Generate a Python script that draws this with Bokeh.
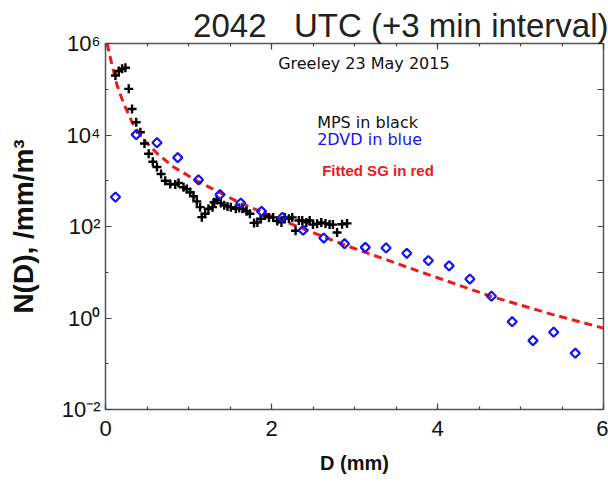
from bokeh.plotting import figure
from bokeh.models import (Range1d, FixedTicker, SingleIntervalTicker, LinearAxis, LogAxis,
                          CustomJSTickFormatter, Label)
from bokeh.embed import file_html
from bokeh.resources import INLINE

# ---- data ----
mps_d = [0.12, 0.16, 0.20, 0.24, 0.28, 0.32, 0.37, 0.42, 0.47, 0.52, 0.57, 0.62, 0.67, 0.72,
         0.78, 0.84, 0.88, 0.94, 0.98, 1.02, 1.06, 1.10, 1.14, 1.16, 1.20, 1.24, 1.29, 1.31,
         1.34, 1.39, 1.43, 1.47, 1.51, 1.57, 1.61, 1.65, 1.70, 1.74, 1.79, 1.83, 1.87, 1.92,
         1.97, 2.02, 2.07, 2.12, 2.16, 2.21, 2.25, 2.29, 2.33, 2.37, 2.42, 2.46, 2.50, 2.55,
         2.60, 2.65, 2.70, 2.74, 2.79, 2.85, 2.91]
mps_n = [2.0e5, 2.5e5, 2.8e5, 2.95e5, 1.02e5, 3.7e4, 1.9e4, 1.15e4, 6.5e3, 3.9e3, 2.6e3, 2.0e3,
         1.4e3, 1.0e3, 850, 830, 890, 720, 660, 560, 460, 355, 265, 160, 190, 245, 265, 340,
         380, 325, 290, 275, 265, 245, 255, 245, 215, 190, 120, 123, 148, 174, 158, 158, 132,
         123, 158, 148, 158, 81, 135, 135, 123, 135, 110, 115, 123, 117, 110, 110, 74, 112, 117]

dvd_d = [0.12, 0.37, 0.62, 0.87, 1.12, 1.38, 1.63, 1.88, 2.13, 2.38, 2.63, 2.88, 3.13, 3.38,
         3.63, 3.89, 4.14, 4.39, 4.65, 4.90, 5.15, 5.40, 5.66]
dvd_n = [440, 1.02e4, 6.8e3, 3.2e3, 1.05e3, 500, 325, 214, 158, 83, 56, 42, 35, 34, 26, 18,
         13.8, 7.1, 3.0, 0.83, 0.32, 0.49, 0.17]

sg_d = [0.02, 0.05, 0.08, 0.14, 0.22, 0.34, 0.46, 0.62, 0.82, 1.10, 1.63, 2.23, 2.87, 3.39,
        3.89, 4.65, 5.38, 6.0]
sg_n = [1.0e6, 5.6e5, 3.3e5, 1.2e5, 4.8e4, 1.6e4, 7.9e3, 4.0e3, 2.0e3, 1.0e3, 320, 115, 40,
        18.6, 8.9, 2.95, 1.2, 0.6]

y_major_ticks = [1e-2, 1e0, 1e2, 1e4, 1e6]
y_minor_ticks = [1e-1, 1e1, 1e3, 1e5]

title_text = "2042\u00a0\u00a0 UTC (+3 min interval)"
subtitle_text = "Greeley 23 May 2015"

p = figure(width=608, height=482, output_backend="svg", toolbar_location=None,
           y_axis_type="log", x_range=Range1d(0, 6), y_range=Range1d(1e-2, 1e6),
           min_border_left=105, min_border_right=5, min_border_top=43, min_border_bottom=73)
p.background_fill_color = "white"
p.border_fill_color = "white"
p.xgrid.visible = False
p.ygrid.visible = False
p.outline_line_color = "#555555"
p.outline_line_width = 1.5

p.title.text = title_text
p.title.align = "right"
p.title.text_font = "Liberation Sans"
p.title.text_font_size = "33px"
p.title.text_font_style = "normal"
p.title.text_color = "#222222"
p.title.standoff = 0
p.title.offset = -5

xt = SingleIntervalTicker(interval=2, num_minor_ticks=4)
yt = FixedTicker(ticks=y_major_ticks, minor_ticks=y_minor_ticks)

sup_fmt = CustomJSTickFormatter(code=r"""
const e = Math.round(Math.log10(tick));
const m = {"-":"\u207b","0":"\u2070","1":"\u00b9","2":"\u00b2","3":"\u00b3","4":"\u2074",
           "5":"\u2075","6":"\u2076","7":"\u2077","8":"\u2078","9":"\u2079"};
return "10" + String(e).split("").map(c => m[c]).join("");
""")

def style(ax):
    ax.axis_line_color = None
    ax.major_tick_in = 6
    ax.major_tick_out = 0
    ax.minor_tick_in = 3
    ax.minor_tick_out = 0
    ax.major_tick_line_color = "#444444"
    ax.minor_tick_line_color = "#444444"
    ax.major_tick_line_width = 1.2
    ax.minor_tick_line_width = 1.2

xa = p.xaxis[0]
xa.ticker = xt
style(xa)
xa.major_label_text_font = "Liberation Sans"
xa.major_label_text_font_size = "22px"
xa.major_label_text_color = "#111111"
xa.major_label_standoff = 11
xa.axis_label = "D (mm)"
xa.axis_label_text_font = "Liberation Sans"
xa.axis_label_text_font_size = "20px"
xa.axis_label_text_font_style = "bold"
xa.axis_label_text_color = "#111111"
xa.axis_label_standoff = 13

ya = p.yaxis[0]
ya.ticker = yt
ya.formatter = sup_fmt
style(ya)
ya.major_label_text_font = "Liberation Sans"
ya.major_label_text_font_size = "22px"
ya.major_label_text_color = "#111111"
ya.major_label_standoff = 5
ya.axis_label = "N(D), /mm/m³"
ya.axis_label_text_font = "Liberation Sans"
ya.axis_label_text_font_size = "28px"
ya.axis_label_text_font_style = "bold"
ya.axis_label_text_color = "#111111"
ya.axis_label_standoff = 20

blank = CustomJSTickFormatter(code="return '';")
top = LinearAxis(ticker=SingleIntervalTicker(interval=2, num_minor_ticks=4), formatter=blank,
                 major_label_text_font_size="0px", major_label_standoff=0)
style(top)
p.add_layout(top, "above")
right = LogAxis(ticker=FixedTicker(ticks=y_major_ticks, minor_ticks=y_minor_ticks), formatter=blank,
                major_label_text_font_size="0px", major_label_standoff=0)
style(right)
right.minor_tick_in = 6
p.add_layout(right, "right")

# fitted SG curve
p.line(sg_d, sg_n, line_color="#f01818", line_width=3, line_dash="8 5")
# MPS crosses
p.scatter(mps_d, mps_n, marker="cross", size=9, line_width=2.4, line_color="black")
# 2DVD diamonds
p.scatter(dvd_d, dvd_n, marker="square", angle=0.785, size=6.5, line_width=2.2,
          line_color="#1414f0", fill_color=None)

p.add_layout(Label(x=2.08, y=3.7e5, text=subtitle_text, text_align="left",
                   text_baseline="alphabetic", text_font="DejaVu Sans",
                   text_font_size="16px", text_color="#111111"))
p.add_layout(Label(x=2.55, y=1.87e4, text="MPS in black", text_align="left",
                   text_baseline="alphabetic", text_font="DejaVu Sans",
                   text_font_size="16px", text_color="#111111"))
p.add_layout(Label(x=2.55, y=7.9e3, text="2DVD in blue", text_align="left",
                   text_baseline="alphabetic", text_font="DejaVu Sans",
                   text_font_size="16px", text_color="#1414f0"))
p.add_layout(Label(x=2.61, y=1.67e3, text="Fitted SG in red", text_align="left",
                   text_baseline="alphabetic", text_font="Liberation Sans",
                   text_font_size="15px", text_font_style="bold", text_color="#f01818"))

open("out.html", "w").write(file_html(p, INLINE))
